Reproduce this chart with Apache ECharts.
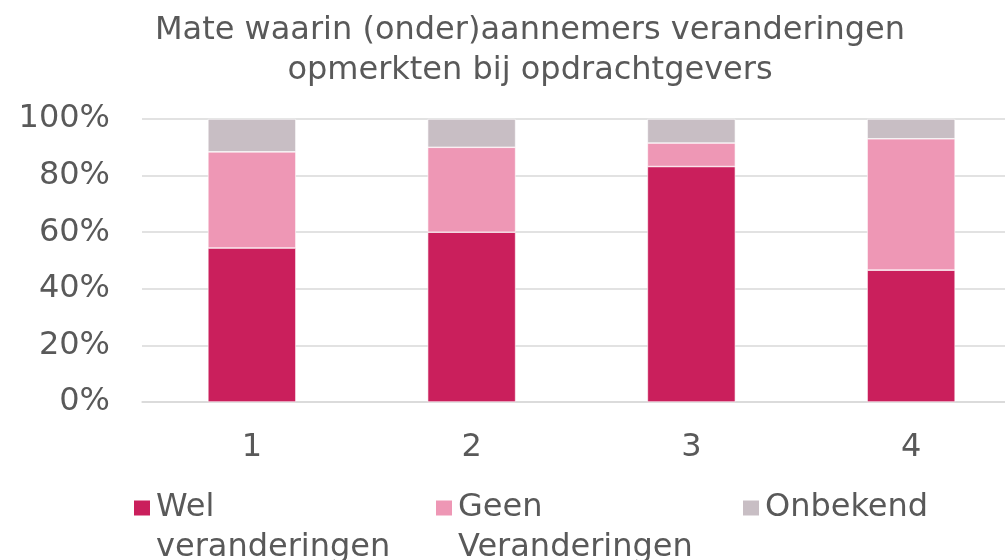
<!DOCTYPE html>
<html>
<head>
<meta charset="utf-8">
<script src="https://cdn.jsdelivr.net/npm/echarts@6/dist/echarts.min.js"></script>
<style>
  html, body { margin: 0; padding: 0; background: #fff; }
  #chart { width: 1005px; height: 560px; }
</style>
</head>
<body>
<div id="chart"></div>
<script>
// data (percent)
const categories = ['1', '2', '3', '4'];
const welValues = [54.4, 60.0, 83.2, 46.6];
const geenValues = [34.0, 30.0, 8.3, 46.4];
const onbekendValues = [11.6, 10.0, 8.5, 7.0];
const yTicks = [0, 20, 40, 60, 80, 100];

const seriesNames = ['Wel\nveranderingen', 'Geen\nVeranderingen', 'Onbekend'];
const colors = ['#ca1f5c', '#ee97b5', '#c8bec4'];

const chart = echarts.init(document.getElementById('chart'));
const textColor = '#595959';
const font = 'DejaVu Sans, Verdana, sans-serif';

//one legend per item so each sits where the original has it
const legendLeft = [127, 429, 736];
const legends = seriesNames.map((n, i) => {
  const twoLines = n.indexOf('\n') >= 0;
  return {
    data: [n],
    left: legendLeft[i],
    top: twoLines ? 443 : 483,
    itemWidth: 18,
    itemHeight: 17,
    icon: 'rect',
    // empty first line keeps the first text line level with the square
    formatter: name => (name.indexOf('\n') >= 0 ? '\n' + name : name),
    textStyle: { color: textColor, fontSize: 32, fontFamily: font, lineHeight: 40 },
    selectedMode: false
  };
});

const option = {
  animation: false,
  color: colors,
  title: {
    text: 'Mate waarin (onder)aannemers veranderingen\nopmerkten bij opdrachtgevers',
    left: 525,
    textAlign: 'center',
    top: 6,
    textStyle: { color: textColor, fontSize: 32, fontWeight: 'normal', fontFamily: font, lineHeight: 40 }
  },
  legend: legends,
  // plot runs past the right edge in the original
  grid: { left: 142, right: -16, top: 119, bottom: 158, outerBoundsMode: 'none' },
  xAxis: {
    type: 'category',
    data: categories,
    axisLine: { lineStyle: { color: '#d9d9d9', width: 1.5 } },
    axisTick: { show: false },
    axisLabel: { color: textColor, fontSize: 32, fontFamily: font, margin: 30 }
  },
  yAxis: {
    type: 'value',
    min: yTicks[0],
    max: yTicks[yTicks.length - 1],
    interval: 20,
    axisLine: { show: false },
    axisTick: { show: false },
    splitLine: { lineStyle: { color: '#d9d9d9', width: 1.5 } },
    axisLabel: { color: textColor, fontSize: 32, fontFamily: font, margin: 32, formatter: '{value}%' }
  },
  series: [welValues, geenValues, onbekendValues].map((d, i) => ({
    name: seriesNames[i],
    type: 'bar',
    stack: 'total',
    barWidth: 88,
    data: d,
    itemStyle: { borderColor: '#ffffff', borderWidth: 0.6 }
  }))
};

option && chart.setOption(option);
</script>
</body>
</html>
